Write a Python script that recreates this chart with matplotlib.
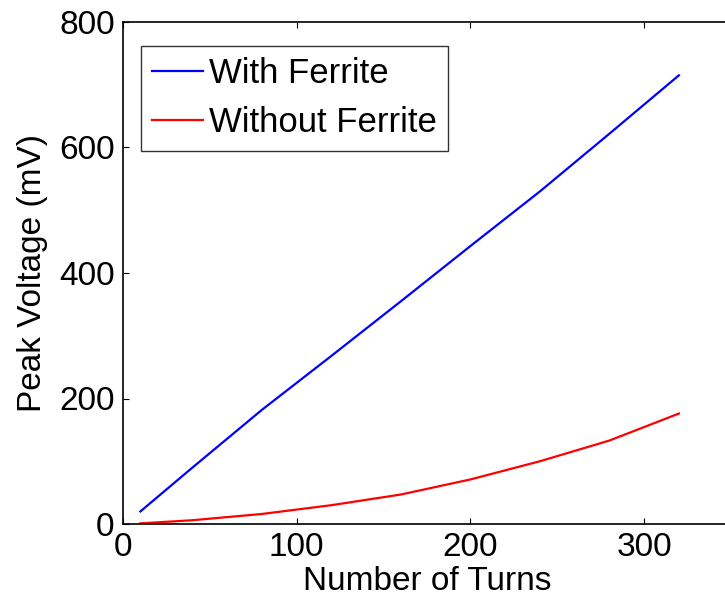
import matplotlib
matplotlib.use("Agg")
import matplotlib.pyplot as plt

turns = [10, 40, 80, 120, 160, 200, 240, 280, 320]
with_ferrite = [20, 90, 182, 268, 355, 443, 530, 622, 715]
without_ferrite = [1, 6, 16, 30, 47, 71, 100, 133, 176]
xticks = [0, 100, 200, 300]
yticks = [0, 200, 400, 600, 800]

plt.rcParams['font.family'] = ['Liberation Sans', 'DejaVu Sans']
fig = plt.figure(figsize=(7.25, 6.06), dpi=100)
W, H = 725, 606
left, right, top, bottom = 123, 731, 22, 524
ax = fig.add_axes([left / W, (H - bottom) / H, (right - left) / W, (bottom - top) / H])

ax.plot(turns, with_ferrite, color='#0000ff', lw=1.6, label='With Ferrite')
ax.plot(turns, without_ferrite, color='#ff0000', lw=1.6, label='Without Ferrite')

ax.set_xlim(0, 350)
ax.set_ylim(0, 800)
ax.set_xticks(xticks)
ax.set_yticks(yticks)
ax.tick_params(direction='in', length=4, width=0.8, labelsize=24, top=True, right=True, pad=6)
for s in ax.spines.values():
    s.set_linewidth(1.2)

ax.set_xlabel('Number of Turns', fontsize=24, labelpad=2)
ax.set_ylabel('Peak Voltage (mV)', fontsize=24, labelpad=8)

leg = ax.legend(loc='upper left', bbox_to_anchor=((141 - left) / (right - left), 1 - (46 - top) / (bottom - top)),
                fontsize=25, frameon=True, fancybox=False, edgecolor='black',
                handlelength=1.45, handletextpad=0.18, borderpad=0.33, labelspacing=0.45,
                borderaxespad=0)
leg.get_frame().set_linewidth(1.0)

fig.savefig('out.png', dpi=100)
